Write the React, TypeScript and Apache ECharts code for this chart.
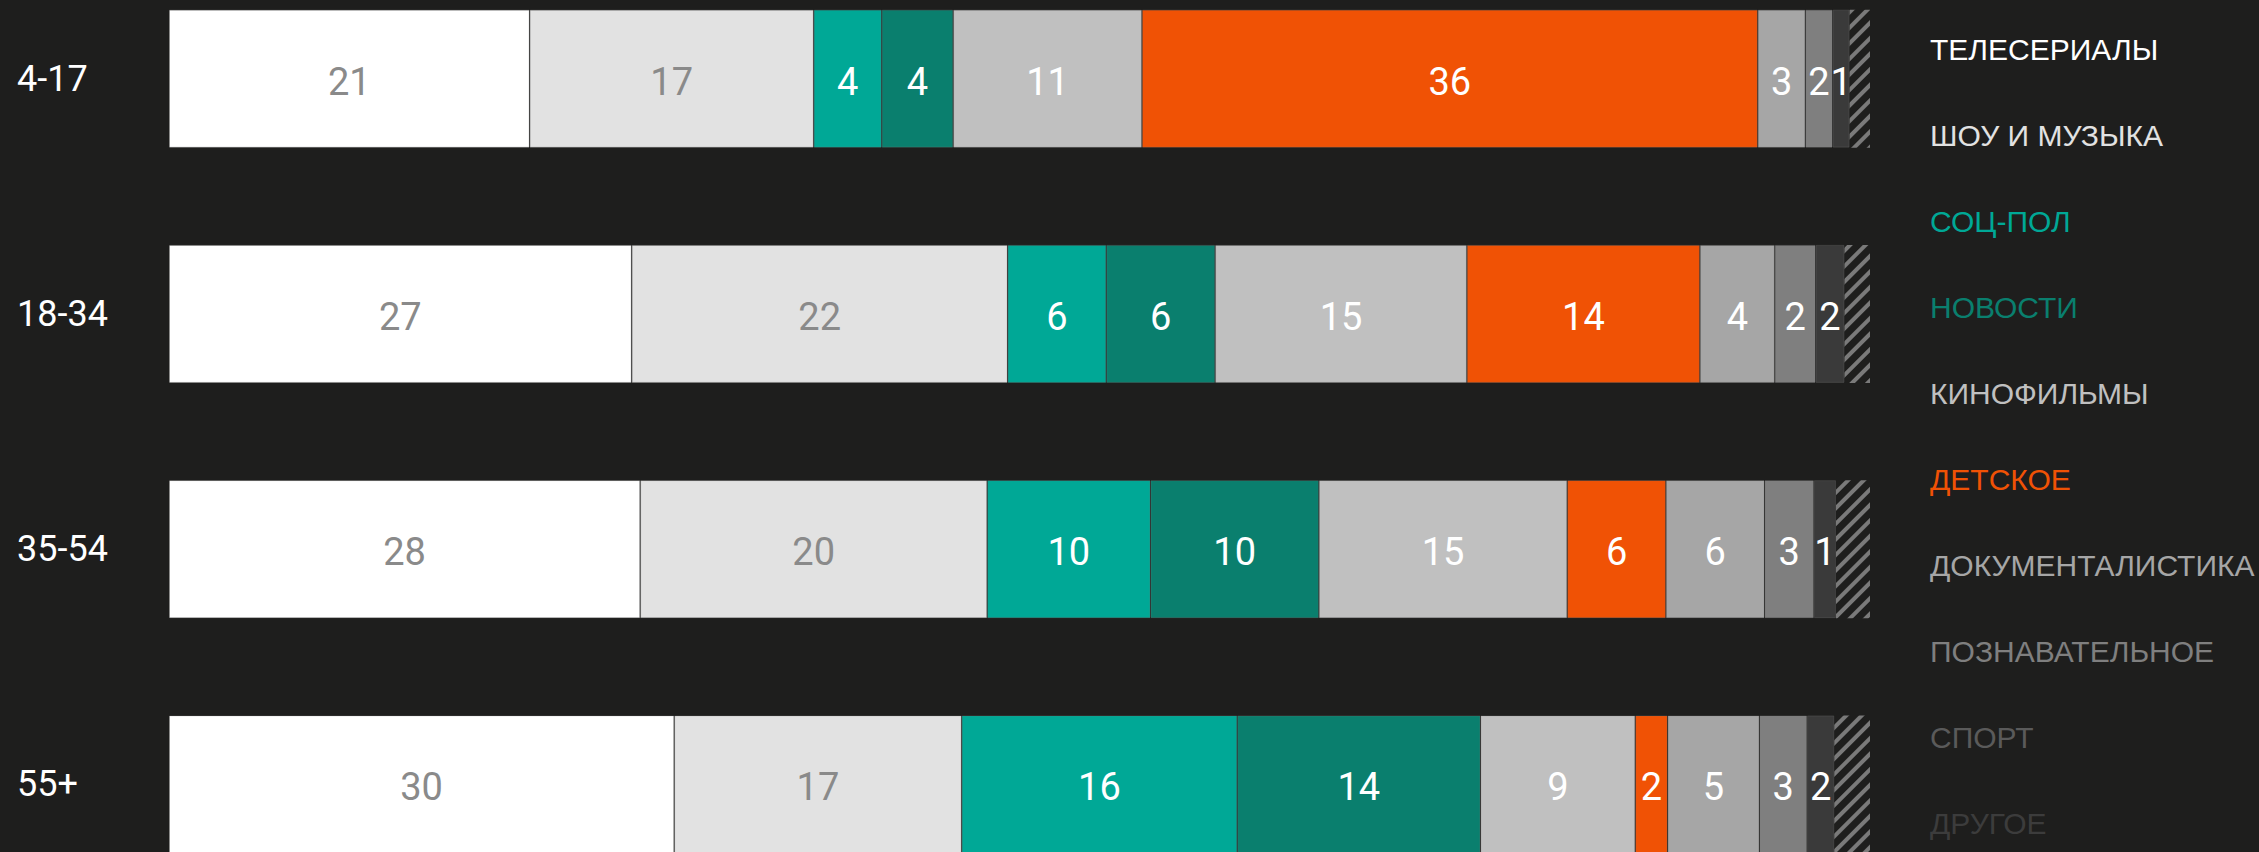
import React, { useEffect, useRef } from "react";
import * as echarts from "echarts";

const ageGroups = ["4-17", "18-34", "35-54", "55+"];

const genreNames = [
  "ТЕЛЕСЕРИАЛЫ",
  "ШОУ И МУЗЫКА",
  "СОЦ-ПОЛ",
  "НОВОСТИ",
  "КИНОФИЛЬМЫ",
  "ДЕТСКОЕ",
  "ДОКУМЕНТАЛИСТИКА",
  "ПОЗНАВАТЕЛЬНОЕ",
  "СПОРТ",
  "ДРУГОЕ",
];

// share (%) per age group, order: 4-17, 18-34, 35-54, 55+
const serials = [21.2, 27.2, 27.7, 29.7];
const showMusic = [16.7, 22.1, 20.4, 16.9];
const socPol = [4.0, 5.8, 9.6, 16.2];
const news = [4.2, 6.4, 9.9, 14.3];
const movies = [11.1, 14.8, 14.6, 9.1];
const kids = [36.2, 13.7, 5.8, 1.9];
const documentary = [2.8, 4.4, 5.8, 5.4];
const educational = [1.6, 2.4, 2.9, 2.8];
const sport = [1.0, 1.7, 1.3, 1.6];
const other = [1.2, 1.5, 2.0, 2.1];

const seriesValues = [serials, showMusic, socPol, news, movies, kids, documentary, educational, sport, other];

const barColors = ["#ffffff", "#e2e2e2", "#00a896", "#0a7f6e", "#c0c0c0", "#f05205", "#a6a6a6", "#7f7f7f", "#3a3a3a", "transparent"];
const legendColors = ["#ffffff", "#e2e2e2", "#00a896", "#0a7f6e", "#c0c0c0", "#f05205", "#a6a6a6", "#7f7f7f", "#5a5a5a", "#3c3c3c"];
const labelColors = ["#8a8a8a", "#8a8a8a", "#fff", "#fff", "#fff", "#fff", "#fff", "#fff", "#fff", "#fff"];

const TOP_SHIFT = 39;

export default function App() {
  const ref = useRef<HTMLDivElement>(null);
  useEffect(() => {
    if (!ref.current) return;
    const chart = echarts.init(ref.current, null, { renderer: "svg" });
    const series: any[] = genreNames.map((name, i) => {
      const isOther = i === genreNames.length - 1;
      return {
        name,
        type: "bar",
        stack: "total",
        barWidth: 138,
        data: seriesValues[i],
        itemStyle: isOther
          ? {
              color: "transparent",
              decal: {
                symbol: "rect",
                symbolSize: 1,
                dashArrayX: [1, 0],
                dashArrayY: [4, 7],
                rotation: -Math.PI / 4,
                color: "#7a7a7a",
              },
            }
          : {
              color: barColors[i],
              borderColor: "rgba(128,128,128,0.25)",
              borderWidth: 1,
            },
        label: {
          show: !isOther,
          position: "inside",
          offset: [0, 3],
          color: labelColors[i],
          fontSize: 38,
          fontFamily: "Roboto",
          formatter: (p: any) => String(Math.round(p.value)),
        },
      };
    });
    chart.setOption({
      animation: false,
      backgroundColor: "#1e1e1d",
      grid: { left: 169, right: 389, top: 0, height: 941 },
      xAxis: { type: "value", min: 0, max: 100, show: false },
      yAxis: {
        type: "category",
        inverse: true,
        data: ageGroups,
        axisLine: { show: false },
        axisTick: { show: false },
        splitLine: { show: false },
        axisLabel: {
          color: "#ffffff",
          fontSize: 36,
          fontFamily: "Roboto",
          align: "left",
          margin: 152,
          padding: [4, 0, 0, 0],
        },
      },
      legend: {
        orient: "vertical",
        left: 1919,
        top: 29 + TOP_SHIFT,
        itemWidth: 0,
        itemHeight: 0,
        itemGap: 56,
        selectedMode: false,
        icon: "rect",
        textStyle: { fontSize: 30, fontFamily: "Liberation Sans", lineHeight: 30 },
        data: genreNames.map((name, i) => ({
          name,
          textStyle: { color: legendColors[i] },
        })),
      },
      series,
    });
    return () => chart.dispose();
  }, []);
  return (
    <div
      style={{ position: "fixed", left: 0, top: 0, width: 2259, height: 852, overflow: "hidden", background: "#1e1e1d" }}
    >
      <div
        ref={ref}
        style={{ position: "absolute", left: 0, top: -TOP_SHIFT, width: 2259, height: 852 + 2 * TOP_SHIFT + 50 }}
      />
    </div>
  );
}
